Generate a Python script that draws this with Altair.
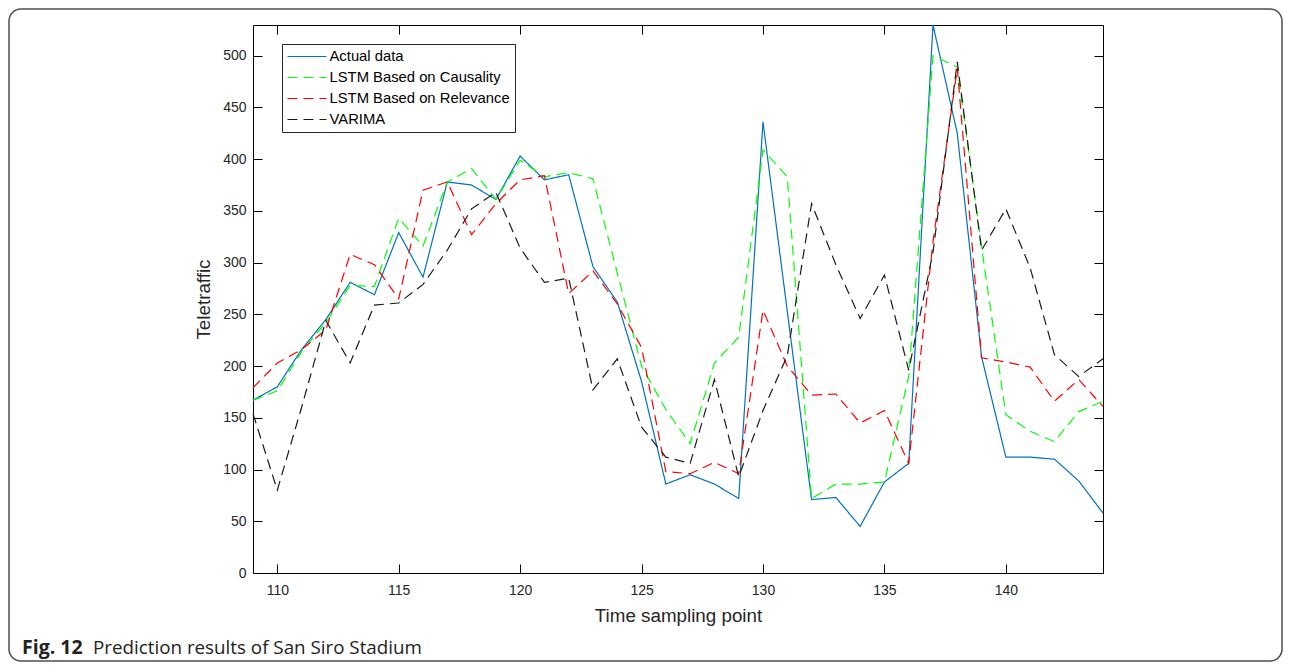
import altair as alt
import pandas as pd

# ---- data ----
t = list(range(109, 145))
series_names = ["Actual data", "LSTM Based on Causality", "LSTM Based on Relevance", "VARIMA"]
series_colors = ["#0072BD", "#00FF00", "#FF0000", "#1a1a1a"]
series_dash = [[1, 0], [10, 6], [10, 6], [10, 6]]

actual = [167, 180, 216, 245, 281, 269, 329, 286, 378, 375,
          361, 403, 380, 385, 296, 262, 185, 86, 95, 86,
          72, 436, 253, 71, 73, 45, 88, 106, 529.7, 425,
          209, 112, 112, 110, 89, 58]
causality = [167, 176, 214, 242, 278, 277, 343, 316, 378, 391,
             361, 399, 383, 387, 381, 290, 200, 158, 125, 203,
             228, 409, 383, 72, 86, 86, 88, 190, 500, 489,
             315, 153, 137, 127, 156, 166]
relevance = [179, 203, 216, 235, 308, 298, 265, 370, 378, 327,
             357, 380, 384, 270, 292, 260, 218, 98, 96, 107,
             96, 254, 200, 172, 173, 145, 157, 106, 320, 488,
             208, 204, 199, 166, 187, 161]
varima = [154, 80, 160, 244, 203, 259, 261, 279, 312, 352,
          368, 314, 281, 285, 177, 207, 141, 112, 106, 187,
          93, 157, 210, 357, 298, 246, 288, 196, 310, 494,
          312, 352, 295, 211, 190, 207]

x_ticks = [110, 115, 120, 125, 130, 135, 140]
y_ticks = [0, 50, 100, 150, 200, 250, 300, 350, 400, 450, 500]
x_title = "Time sampling point"
y_title = "Teletraffic"
caption_bold = ["Fig. 12"]
caption_rest = ["Prediction results of San Siro Stadium"]

rows = []
for name, vals in zip(series_names, [actual, causality, relevance, varima]):
    for tt, v in zip(t, vals):
        rows.append({"t": tt, "v": v, "series": name})
df = pd.DataFrame(rows)

W, H = 850, 548
FONT = "Liberation Sans"
CAPFONT = "Open Sans"

xscale = alt.Scale(domain=[109, 144], nice=False, zero=False)
yscale = alt.Scale(domain=[0, 529.7], nice=False, zero=False)

legend = alt.Legend(
    title=None, orient="none", legendX=29, legendY=19,
    fillColor="white", strokeColor="#262626", padding=5,
    labelFont=FONT, labelFontSize=14.8, labelColor="black", labelLimit=400,
    symbolType="M-3,0H3", symbolSize=169, symbolStrokeWidth=1.2,
    symbolOffset=12.5, labelOffset=15, rowPadding=5,
)

common_axis = dict(grid=False, domain=False, tickSize=9, offset=-9,
                   tickColor="black", tickWidth=1,
                   labelFont=FONT, labelFontSize=14, labelColor="#262626",
                   titleFont=FONT, titleColor="#262626", titleFontWeight="normal")

lines = alt.Chart(df).mark_line(strokeWidth=1.2).encode(
    x=alt.X("t:Q", scale=xscale,
            axis=alt.Axis(orient="bottom", values=x_ticks, labelPadding=10,
                          title=x_title, titleFontSize=18.8, titlePadding=9,
                          **common_axis)),
    y=alt.Y("v:Q", scale=yscale,
            axis=alt.Axis(orient="left", values=y_ticks, labelPadding=7,
                          title=y_title, titleFontSize=18.8, titlePadding=9,
                          **common_axis)),
    color=alt.Color("series:N", scale=alt.Scale(domain=series_names, range=series_colors),
                    legend=legend),
    strokeDash=alt.StrokeDash("series:N", scale=alt.Scale(domain=series_names, range=series_dash),
                              legend=legend),
)

mirror = alt.Chart(df).mark_point(opacity=0).encode(
    x=alt.X("t:Q", scale=xscale,
            axis=alt.Axis(orient="top", values=x_ticks, labels=False, title="",
                          **common_axis)),
    y=alt.Y("v:Q", scale=yscale,
            axis=alt.Axis(orient="right", values=y_ticks, labels=False, title="",
                          **common_axis)),
)

one = pd.DataFrame({"bold": caption_bold, "rest": caption_rest})

border = alt.Chart(one).mark_rect(
    fill="white", fillOpacity=0, stroke="#4d4d4d", strokeWidth=1.5, cornerRadius=12
).encode(
    x=alt.value(-244), x2=alt.value(1029),
    y=alt.value(-16), y2=alt.value(636),
)

cap1 = alt.Chart(one).mark_text(
    align="left", baseline="alphabetic", font=CAPFONT,
    fontSize=19.5, fontWeight="bold", color="#222222"
).encode(x=alt.value(-231), y=alt.value(629), text="bold:N")

cap2 = alt.Chart(one).mark_text(
    align="left", baseline="alphabetic", font=CAPFONT,
    fontSize=18.8, color="#222222"
).encode(x=alt.value(-160), y=alt.value(629), text="rest:N")

chart = alt.layer(border, lines, mirror, cap1, cap2).resolve_axis(
    x="independent", y="independent"
).properties(
    width=W, height=H,
    autosize=alt.AutoSizeParams(type="none"),
    padding={"left": 245, "top": 17, "right": 181, "bottom": 89},
).configure_view(stroke="black", strokeWidth=1)

chart.save("out.html", embed_options={"renderer": "svg", "actions": False})
